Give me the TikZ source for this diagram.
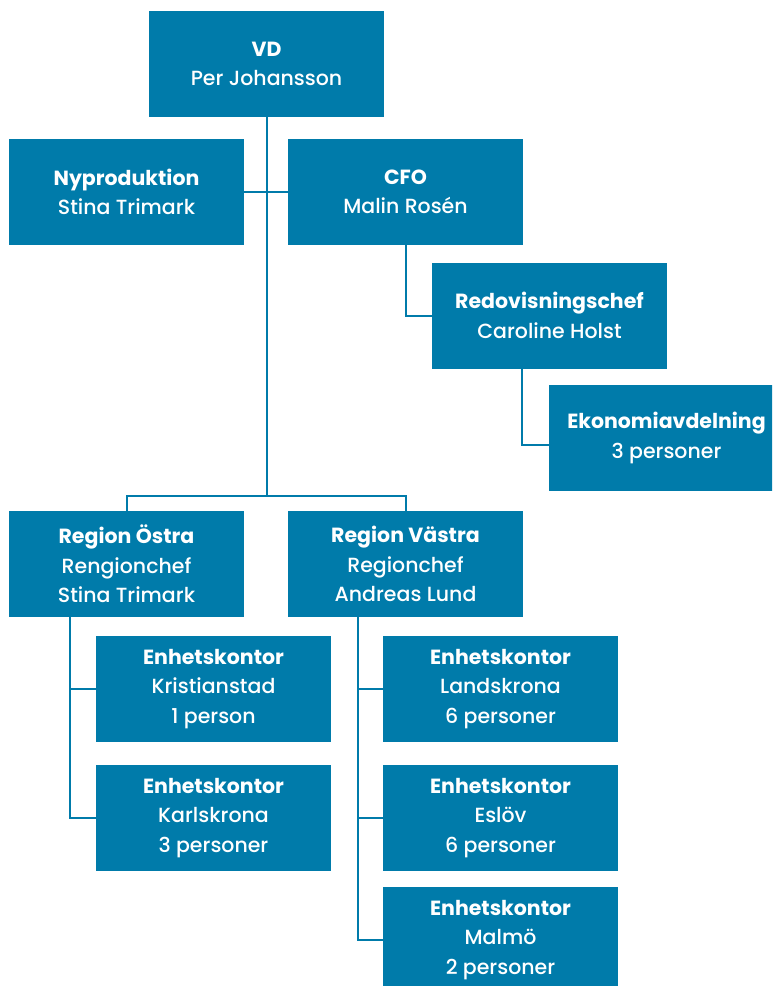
\documentclass[tikz,border=0pt]{standalone}
\usepackage{fontspec}
\setmainfont{Poppins}[UprightFont={* Medium}, BoldFont={* Bold}]
\definecolor{orgblue}{RGB}{0,123,170}
\begin{document}
\begin{tikzpicture}[x=1pt,y=-1pt,
  box/.style={fill=orgblue, text=white, minimum width=235pt, minimum height=106pt,
    inner sep=0pt, align=center, font=\fontsize{20.5}{29.5}\selectfont},
  link/.style={draw=orgblue, line width=2pt}]
\useasboundingbox (0,0) rectangle (772,986);
\clip (0,0) rectangle (772,986);
\node[box] (vd)  at (266.5,64)  {\textbf{VD}\\Per Johansson};
\node[box] (ny)  at (126.5,192) {\textbf{Nyproduktion}\\Stina Trimark};
\node[box] (cfo) at (405.5,192) {\textbf{CFO}\\Malin Rosén};
\node[box] (red) at (549.5,315.5) {\textbf{Redovisningschef}\\Caroline Holst};
\node[box] (eko) at (666.5,438) {\textbf{Ekonomiavdelning}\\3 personer};
\node[box] (ro)  at (126.5,564) {\textbf{Region Östra}\\Rengionchef\\Stina Trimark};
\node[box] (rv)  at (405.5,564) {\textbf{Region Västra}\\Regionchef\\Andreas Lund};
\node[box] (kr)  at (213.5,689) {\textbf{Enhetskontor}\\Kristianstad\\1 person};
\node[box] (ka)  at (213.5,818) {\textbf{Enhetskontor}\\Karlskrona\\3 personer};
\node[box] (la)  at (500.5,689) {\textbf{Enhetskontor}\\Landskrona\\6 personer};
\node[box] (es)  at (500.5,818) {\textbf{Enhetskontor}\\Eslöv\\6 personer};
\node[box] (ma)  at (500.5,940) {\textbf{Enhetskontor}\\Malmö\\2 personer};
\coordinate (j1) at (266.5,496);
\coordinate (rb) at (522,445);
\coordinate (ox) at (70,818);
\coordinate (vx) at (358,940);
\draw[link] (vd.south) -- (j1);
\draw[link] (ro.north) |- (j1) -| (rv.north);
\draw[link] (ny.east) -- (cfo.west);
\draw[link] (cfo.south) |- (red.west);
\draw[link] (red.south -| rb) -- (rb) -- (eko.west |- rb);
\draw[link] (ro.south -| ox) -- (ox) -- (ka.west);
\draw[link] (ox |- kr.west) -- (kr.west);
\draw[link] (rv.south -| vx) -- (vx) -- (ma.west);
\draw[link] (vx |- la.west) -- (la.west);
\draw[link] (vx |- es.west) -- (es.west);
\end{tikzpicture}
\end{document}
